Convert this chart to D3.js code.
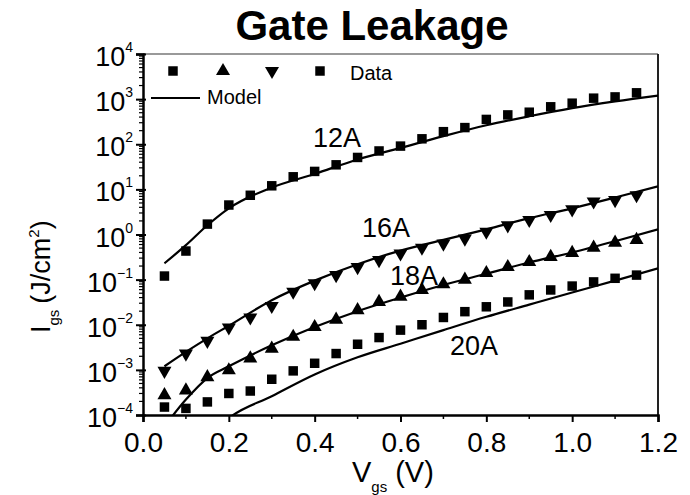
<!DOCTYPE html>
<html>
<head>
<meta charset="utf-8">
<script src="https://cdn.jsdelivr.net/npm/d3@7"></script>
<style>
  body { margin: 0; background: #fff; }
  text { font-family: 'Liberation Sans', Arial, sans-serif; fill: #000; }
</style>
</head>
<body>
<div id="chart"></div>
<script>
// Gate voltage sample points for the measured data (V)
const voltages = [0.05, 0.10, 0.15, 0.20, 0.25, 0.30, 0.35, 0.40, 0.45, 0.50, 0.55, 0.60,
  0.65, 0.70, 0.75, 0.80, 0.85, 0.90, 0.95, 1.00, 1.05, 1.10, 1.15];

// Measured gate leakage (J/cm^2), one array per oxide thickness
const data12A = [0.12, 0.43, 1.7, 4.5, 7.4, 12, 19, 25, 35, 51, 71, 91,
  132, 190, 234, 355, 447, 513, 676, 813, 1050, 1120, 1380];
const data16A = [9.5e-4, 2.3e-3, 4.4e-3, 8.7e-3, 1.45e-2, 2.6e-2, 5.4e-2, 8.3e-2, 0.126, 0.19, 0.27, 0.38,
  0.51, 0.63, 0.81, 1.15, 1.6, 2.1, 2.7, 3.6, 5.4, 5.8, 7.4];
const data18A = [2.75e-4, 3.5e-4, 6.9e-4, 9.8e-4, 1.8e-3, 2.95e-3, 5.4e-3, 8.9e-3, 1.3e-2, 2.1e-2, 3.2e-2, 4.2e-2,
  5.9e-2, 7.9e-2, 0.10, 0.14, 0.19, 0.245, 0.32, 0.39, 0.51, 0.66, 0.76];
const data20A = [1.5e-4, 1.4e-4, 1.95e-4, 3.0e-4, 3.4e-4, 6.2e-4, 9.5e-4, 1.4e-3, 2.3e-3, 3.7e-3, 5.2e-3, 7.6e-3,
  1.0e-2, 1.45e-2, 1.95e-2, 2.5e-2, 3.2e-2, 4.6e-2, 5.9e-2, 7.2e-2, 8.9e-2, 0.107, 0.126];

// Model curves, sampled on a coarser grid (null = not drawn)
const modelVoltages = [0.05, 0.10, 0.15, 0.20, 0.30, 0.40, 0.50, 0.60, 0.70, 0.80, 0.90, 1.00, 1.10, 1.20];
const model12A = [0.23, 0.58, 1.6, 3.8, 11, 22, 46, 83, 151, 263, 417, 631, 891, 1200];
const model16A = [1.2e-3, 2.5e-3, 5.0e-3, 9.5e-3, 3.5e-2, 9.5e-2, 0.22, 0.44, 0.76, 1.3, 2.3, 3.8, 6.6, 11.7];
const model18A = [5.6e-5, 2.2e-4, 6.6e-4, 1.2e-3, 3.5e-3, 8.9e-3, 2.0e-2, 4.0e-2, 7.6e-2, 0.135, 0.24, 0.40, 0.71, 1.3];
const model20A = [null, null, 3.0e-5, 8.5e-5, 2.6e-4, 7.9e-4, 1.9e-3, 3.8e-3, 7.6e-3, 1.5e-2, 2.8e-2, 5.2e-2, 9.5e-2, 0.178];

const seriesNames = ['12A', '16A', '18A', '20A'];
const seriesShapes = ['square', 'down', 'up', 'square'];
const xTicks = [0.0, 0.2, 0.4, 0.6, 0.8, 1.0, 1.2];
const yTickExponents = [-4, -3, -2, -1, 0, 1, 2, 3, 4];

const width = 690;
const height = 495;
const plot = { left: 143, right: 658, top: 54, bottom: 415 };

const svg = d3.select('#chart').append('svg')
  .attr('width', width)
  .attr('height', height);

const x = d3.scaleLinear().domain([0, 1.2]).range([plot.left, plot.right]);
const y = d3.scaleLog().domain([1e-4, 1e4]).range([plot.bottom, plot.top]);

svg.append('clipPath').attr('id', 'plot-clip')
  .append('rect')
  .attr('x', plot.left).attr('y', plot.top)
  .attr('width', plot.right - plot.left).attr('height', plot.bottom - plot.top);

// Title
svg.append('text')
  .attr('x', 372).attr('y', 40)
  .attr('text-anchor', 'middle')
  .style('font-size', '42px')
  .style('font-weight', 'bold')
  .text('Gate Leakage');

// Frame: top border is faint in the scan, right border dark
svg.append('line')
  .attr('x1', plot.left).attr('x2', plot.right)
  .attr('y1', plot.top).attr('y2', plot.top)
  .attr('stroke', '#999').attr('stroke-width', 2);
svg.append('line')
  .attr('x1', plot.right).attr('x2', plot.right)
  .attr('y1', plot.top).attr('y2', plot.bottom)
  .attr('stroke', '#222').attr('stroke-width', 2);

// X axis
const xAxis = d3.axisBottom(x)
  .tickValues(xTicks)
  .tickSize(7)
  .tickPadding(10)
  .tickFormat(d3.format('.1f'));
const gx = svg.append('g')
  .attr('transform', `translate(0,${plot.bottom})`)
  .call(xAxis);
gx.select('.domain').attr('stroke-width', 2.5).attr('stroke', '#000');
gx.selectAll('.tick line').attr('stroke-width', 2);
gx.selectAll('.tick text')
  .attr('dy', '0')
  .attr('y', 37)
  .style('font-size', '28px')
  .style('font-family', "'Liberation Sans', Arial, sans-serif");
// minor x ticks
gx.selectAll('.minor')
  .data(d3.range(0.1, 1.2, 0.2))
  .join('line')
  .attr('class', 'minor')
  .attr('x1', d => x(d)).attr('x2', d => x(d))
  .attr('y1', 0).attr('y2', 4)
  .attr('stroke', '#000').attr('stroke-width', 1.5);

// Y axis with log minor ticks
const yAxis = d3.axisLeft(y)
  .tickValues(yTickExponents.map(e => Math.pow(10, e)))
  .tickSize(7)
  .tickFormat('');
const gy = svg.append('g')
  .attr('transform', `translate(${plot.left},0)`)
  .call(yAxis);
gy.select('.domain').attr('stroke-width', 2.5).attr('stroke', '#000');
gy.selectAll('.tick line').attr('stroke-width', 2).attr('x2', -7).attr('x1', 3);

const minorY = [];
yTickExponents.slice(0, -1).forEach((e) => {
  for (let m = 2; m <= 9; m += 1) minorY.push(m * Math.pow(10, e));
});
gy.selectAll('.minor')
  .data(minorY)
  .join('line')
  .attr('class', 'minor')
  .attr('x1', -4).attr('x2', 0)
  .attr('y1', d => y(d)).attr('y2', d => y(d))
  .attr('stroke', '#000').attr('stroke-width', 1.2);

// y tick labels as 10 with superscript exponent
const yLabels = svg.append('g');
yTickExponents.forEach((e) => {
  const t = yLabels.append('text')
    .attr('x', 133)
    .attr('y', y(Math.pow(10, e)) + 12)
    .attr('text-anchor', 'end')
    .style('font-size', '27px');
  t.append('tspan').text('10');
  t.append('tspan')
    .attr('dy', -14)
    .style('font-size', '14px')
    .text(String(e).replace('-', '\u2212'));
});

// Axis titles
const xTitle = svg.append('text')
  .attr('x', 352).attr('y', 482)
  .style('font-size', '29px');
xTitle.append('tspan').text('V');
xTitle.append('tspan').attr('dy', 10).style('font-size', '15px').text('gs');
xTitle.append('tspan').attr('dy', -10).attr('dx', 8).text('(V)');

const yTitle = svg.append('text')
  .attr('transform', 'translate(50,333) rotate(-90)')
  .style('font-size', '27px');
yTitle.append('tspan').text('I');
yTitle.append('tspan').attr('dy', 9).style('font-size', '15px').text('gs');
yTitle.append('tspan').attr('dy', -9).attr('dx', 6).text('(J/cm');
yTitle.append('tspan').attr('dy', -11).style('font-size', '15px').text('2');
yTitle.append('tspan').attr('dy', 11).text(')');

// Markers
const symbolFor = (shape, size) => {
  if (shape === 'square') return d3.symbol(d3.symbolSquare, size)();
  return d3.symbol(d3.symbolTriangle, size)();
};

function drawMarker(g, shape, cx, cy) {
  const p = g.append('path')
    .attr('d', symbolFor(shape, shape === 'square' ? 90 : 85))
    .attr('fill', '#000');
  if (shape === 'down') {
    p.attr('transform', `translate(${cx},${cy}) rotate(180)`);
  } else {
    p.attr('transform', `translate(${cx},${cy})`);
  }
}

const plotArea = svg.append('g').attr('clip-path', 'url(#plot-clip)');

const modelLine = d3.line()
  .defined(d => d[1] !== null)
  .x(d => x(d[0]))
  .y(d => y(d[1]))
  .curve(d3.curveMonotoneX);

const models = [model12A, model16A, model18A, model20A];
models.forEach((vals) => {
  plotArea.append('path')
    .datum(modelVoltages.map((v, i) => [v, vals[i]]))
    .attr('fill', 'none')
    .attr('stroke', '#000')
    .attr('stroke-width', 2.2)
    .attr('d', modelLine);
});

const datasets = [data12A, data16A, data18A, data20A];
datasets.forEach((vals, si) => {
  const g = plotArea.append('g');
  voltages.forEach((v, i) => drawMarker(g, seriesShapes[si], x(v), y(vals[i])));
});

// Curve labels
const curveLabels = [
  { name: seriesNames[0], x: 313, y: 147 },
  { name: seriesNames[1], x: 362, y: 237 },
  { name: seriesNames[2], x: 390, y: 285 },
  { name: seriesNames[3], x: 450, y: 355 },
];
svg.append('g').selectAll('text')
  .data(curveLabels)
  .join('text')
  .attr('x', d => d.x)
  .attr('y', d => d.y)
  .style('font-size', '27px')
  .text(d => d.name);

// Legend
const legend = svg.append('g');
const legendShapes = ['square', 'up', 'down', 'square'];
const legendX = [173, 223, 272, 320];
legendShapes.forEach((s, i) => drawMarker(legend, s, legendX[i], 71));
legend.append('text')
  .attr('x', 350).attr('y', 80)
  .style('font-size', '20px')
  .text('Data');
legend.append('line')
  .attr('x1', 151).attr('x2', 200)
  .attr('y1', 98).attr('y2', 98)
  .attr('stroke', '#000').attr('stroke-width', 2);
legend.append('text')
  .attr('x', 207).attr('y', 104)
  .style('font-size', '20px')
  .text('Model');
</script>
</body>
</html>
